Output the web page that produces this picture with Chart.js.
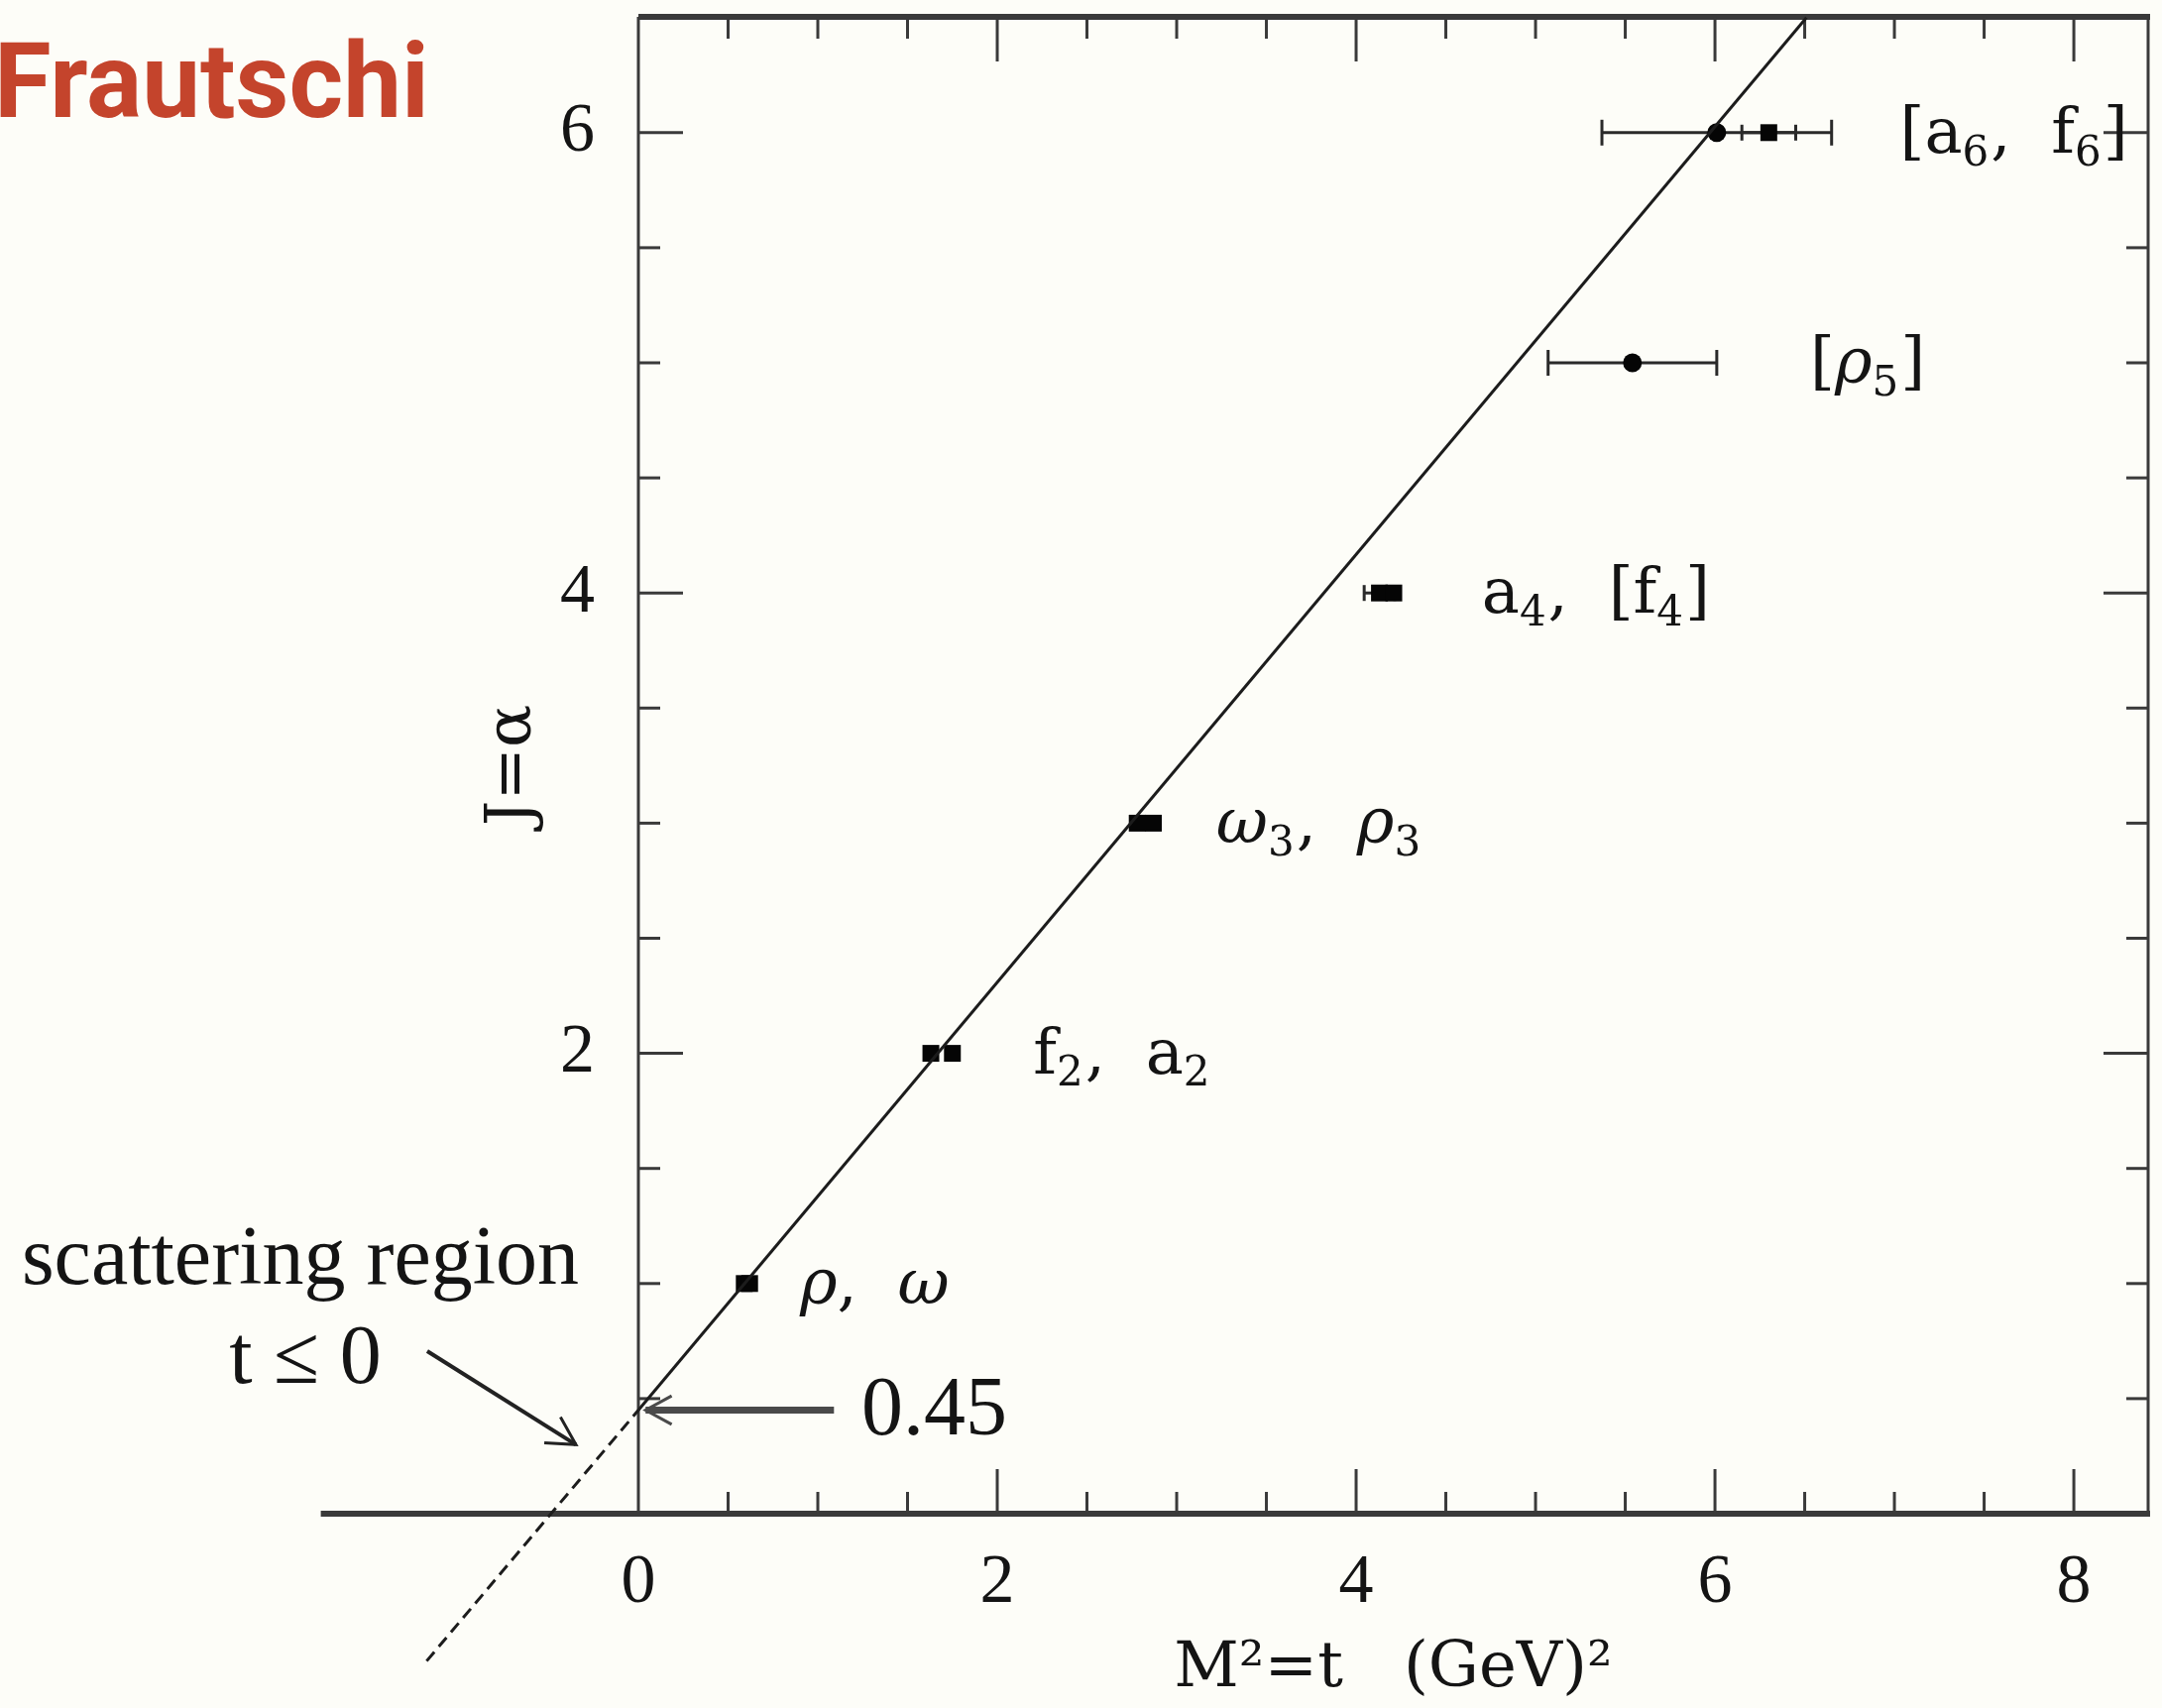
<!DOCTYPE html>
<html>
<head>
<meta charset="utf-8">
<title>Frautschi – J vs M²</title>
<script src="https://cdn.jsdelivr.net/npm/chart.js@4.4.1/dist/chart.umd.min.js"></script>
<style>
  html, body { margin: 0; padding: 0; background: #fdfdf8; }
  #wrap { width: 2181px; height: 1723px; }
</style>
</head>
<body>
<div id="wrap"><canvas id="chart" width="2181" height="1723"></canvas></div>
<script>
// established mesons (filled squares), M^2 in GeV^2 against spin J
const squareT = [0.59, 0.62, 1.63, 1.75, 2.78, 2.87, 4.13, 4.21, 6.30];
const squareJ = [1, 1, 2, 2, 3, 3, 4, 4, 6];
const squareErr = [0, 0, 0, 0, 0, 0, 0.085, 0, 0.15];

// candidate states (filled circles)
const circleT = [5.54, 6.01];
const circleJ = [5, 6];
const circleErr = [0.47, 0.64];

// the trajectory: solid for t > 0, dashed into the scattering region
const lineT = [0, 6.51];
const lineJ = [0.45, 6.50];
const dashT = [-1.18, 0];
const dashJ = [-0.64, 0.45];

// names next to each spin level, "_n" marks a subscript
const labelText = ['ρ,  ω', 'f_2,  a_2', 'ω_3,  ρ_3', 'a_4,  [f_4]', '[ρ_5]', '[a_6,  f_6]'];
const labelT = [0.90, 2.20, 3.22, 4.70, 6.53, 7.03];
const labelJ = [1, 2, 3, 4, 5, 6];

// tick labels
const xTicks = [0, 2, 4, 6, 8];
const yTicks = [2, 4, 6];

const ink = '#141414';
const axisStartT = -1.77;

function seg(ctx, x1, y1, x2, y2) {
  ctx.beginPath();
  ctx.moveTo(x1, y1);
  ctx.lineTo(x2, y2);
  ctx.stroke();
}

function arrow(ctx, x1, y1, x2, y2, width, head) {
  ctx.lineWidth = width;
  seg(ctx, x1, y1, x2, y2);
  const ang = Math.atan2(y2 - y1, x2 - x1);
  ctx.lineWidth = 3;
  ctx.beginPath();
  ctx.moveTo(x2 - head * Math.cos(ang - 0.5), y2 - head * Math.sin(ang - 0.5));
  ctx.lineTo(x2, y2);
  ctx.lineTo(x2 - head * Math.cos(ang + 0.5), y2 - head * Math.sin(ang + 0.5));
  ctx.stroke();
}

// text with lowered, smaller subscripts; greek letters in italic
function richText(ctx, txt, x, y, size) {
  const parts = txt.split(/_(\d)/);
  parts.forEach((p, i) => {
    if (!p) return;
    const sub = i % 2 === 1;
    const px = Math.round(sub ? size * 0.66 : size);
    p.split(/([α-ω]+)/).forEach(run => {
      if (!run) return;
      const greek = /[α-ω]/.test(run);
      ctx.font = (greek ? 'italic ' : '') + px + 'px "DejaVu Serif"';
      ctx.fillText(run, x, sub ? y + size * 0.2 : y);
      x += ctx.measureText(run).width;
    });
    if (sub) x += 2;
  });
}

function errorBars(ctx, x, y, ts, js, errs, cap) {
  ts.forEach((t, i) => {
    if (!errs[i]) return;
    const py = y.getPixelForValue(js[i]);
    const a = x.getPixelForValue(t - errs[i]);
    const b = x.getPixelForValue(t + errs[i]);
    seg(ctx, a, py, b, py);
    seg(ctx, a, py - cap, a, py + cap);
    seg(ctx, b, py - cap, b, py + cap);
  });
}

// keep the scales from reserving room for half tick labels at the ends
function noEdgePadding(s) {
  s.paddingTop = 0;
  s.paddingBottom = 0;
  s.paddingLeft = 0;
  s.paddingRight = 0;
}

const frame = {
  id: 'frame',
  beforeDraw(chart) {
    const { ctx } = chart;
    ctx.save();
    ctx.fillStyle = '#fdfdf8';
    ctx.fillRect(0, 0, chart.width, chart.height);
    ctx.restore();
  },
  beforeDatasetsDraw(chart) {
    const { ctx, chartArea: a, scales: { x, y } } = chart;
    const y0 = y.getPixelForValue(0);
    ctx.save();
    ctx.strokeStyle = '#3a3a3a';

    // box sides
    ctx.lineWidth = 3;
    seg(ctx, a.left, y0, a.left, a.top);
    seg(ctx, a.right, y0, a.right, a.top);
    // heavy top edge and t axis (runs out to negative t)
    ctx.lineWidth = 6;
    seg(ctx, a.left, a.top, a.right + 2, a.top);
    seg(ctx, x.getPixelForValue(axisStartT), y0, a.right + 2, y0);

    // inward ticks every 0.5, long ones every 2
    ctx.lineWidth = 3;
    for (let k = 1; k * 0.5 < x.max; k++) {
      const v = k * 0.5;
      const px = x.getPixelForValue(v);
      const len = v % 2 === 0 ? 45 : 22;
      seg(ctx, px, y0, px, y0 - len);
      seg(ctx, px, a.top, px, a.top + len);
    }
    for (let k = 1; k * 0.5 < y.max; k++) {
      const v = k * 0.5;
      const py = y.getPixelForValue(v);
      const len = v % 2 === 0 ? 45 : 22;
      seg(ctx, a.left, py, a.left + len, py);
      seg(ctx, a.right, py, a.right - len, py);
    }

    // horizontal error bars
    ctx.strokeStyle = '#2a2a2a';
    ctx.lineWidth = 3;
    errorBars(ctx, x, y, squareT, squareJ, squareErr, 8);
    errorBars(ctx, x, y, circleT, circleJ, circleErr, 13);
    ctx.restore();
  },
  afterDraw(chart) {
    const { ctx, scales: { x, y } } = chart;
    ctx.save();
    ctx.fillStyle = ink;
    ctx.textBaseline = 'alphabetic';

    labelText.forEach((txt, i) => {
      richText(ctx, txt, x.getPixelForValue(labelT[i]), y.getPixelForValue(labelJ[i]) + 20, 64);
    });

    ctx.font = '84px "Liberation Serif"';
    ctx.textAlign = 'center';
    ctx.fillText('scattering region', x.getPixelForValue(-1.884), y.getPixelForValue(1.0));
    ctx.textAlign = 'left';
    ctx.fillText('t ≤ 0', x.getPixelForValue(-2.28), y.getPixelForValue(0.568));
    ctx.fillText('0.45', x.getPixelForValue(1.243), y.getPixelForValue(0.345));

    ctx.strokeStyle = '#222';
    arrow(ctx, x.getPixelForValue(-1.177), y.getPixelForValue(0.706),
      x.getPixelForValue(-0.348), y.getPixelForValue(0.30), 4, 32);
    ctx.strokeStyle = '#4a4a4a';
    arrow(ctx, x.getPixelForValue(1.09), y.getPixelForValue(0.45),
      x.getPixelForValue(0.04), y.getPixelForValue(0.45), 7, 30);

    ctx.font = 'bold 105px Roboto';
    ctx.fillStyle = '#c4442c';
    ctx.fillText('Frautschi', -6, 118);
    ctx.restore();
  }
};

const pts = (ts, js) => ts.map((t, i) => ({ x: t, y: js[i] }));
const tickFont = { family: '"Liberation Serif"', size: 70 };
const titleFont = { family: '"DejaVu Serif"', size: 64 };

new Chart(document.getElementById('chart'), {
  type: 'scatter',
  data: {
    datasets: [
      {
        label: 'trajectory',
        data: pts(lineT, lineJ),
        showLine: true,
        borderColor: '#1c1c1c',
        borderWidth: 3,
        pointRadius: 0,
        clip: false
      },
      {
        label: 'scattering region',
        data: pts(dashT, dashJ),
        showLine: true,
        borderColor: '#1c1c1c',
        borderWidth: 3,
        borderDash: [12, 7],
        pointRadius: 0,
        clip: false
      },
      {
        label: 'mesons',
        data: pts(squareT, squareJ),
        pointStyle: 'rect',
        pointRadius: 12,
        backgroundColor: '#050505',
        borderWidth: 0
      },
      {
        label: 'candidates',
        data: pts(circleT, circleJ),
        pointStyle: 'circle',
        pointRadius: 9.5,
        backgroundColor: '#050505',
        borderWidth: 0
      }
    ]
  },
  options: {
    responsive: false,
    animation: false,
    devicePixelRatio: 1,
    layout: { autoPadding: false, padding: { left: 480, top: 17, right: 14, bottom: 0 } },
    plugins: { legend: { display: false }, tooltip: { enabled: false } },
    scales: {
      x: {
        type: 'linear',
        min: 0,
        max: 8.414,
        afterFit: s => { s.height = 196; noEdgePadding(s); },
        afterBuildTicks: s => { s.ticks = xTicks.map(v => ({ value: v })); },
        grid: { display: false },
        border: { display: false },
        ticks: { padding: 21, font: tickFont, color: ink },
        title: { display: true, text: 'M²=t   (GeV)²', font: titleFont, color: ink, padding: 0 }
      },
      y: {
        type: 'linear',
        min: 0,
        max: 6.503,
        afterFit: s => { s.width = 164; noEdgePadding(s); },
        afterBuildTicks: s => { s.ticks = yTicks.map(v => ({ value: v })); },
        grid: { display: false },
        border: { display: false },
        ticks: { padding: 36, font: tickFont, color: ink },
        title: { display: true, text: 'J=α', font: titleFont, color: ink, padding: 0 }
      }
    }
  },
  plugins: [frame]
});
</script>
</body>
</html>
